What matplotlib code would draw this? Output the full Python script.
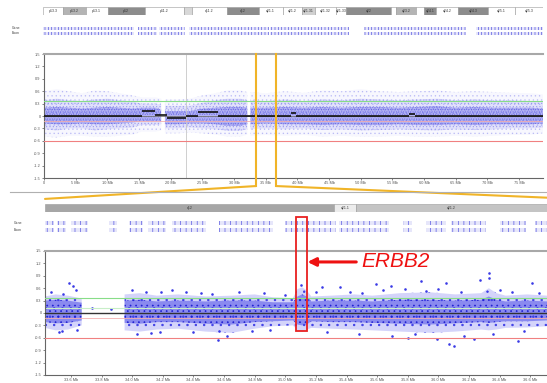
import numpy as np
import matplotlib.pyplot as plt
from matplotlib.patches import Rectangle, ConnectionPatch
from matplotlib.lines import Line2D

plt.rcParams['font.family'] = ['Liberation Sans', 'DejaVu Sans']
plt.rcParams['hatch.linewidth'] = 0.5

W, H = 547, 383
nan = np.nan

# chromosome 17, whole view (Mb)
CHR_LEN = 78.8
ZOOM_START, ZOOM_END = 33.43, 36.71
ERBB2_START, ERBB2_END = 35.07, 35.14
CENTROMERE = 22.4

# ideogram bands (Mb) and grey shade
band_start = [0.0, 3.1, 6.7, 10.2, 16.0, 22.2, 23.5, 29.0, 34.0, 37.8, 40.8, 42.8, 46.2, 47.8,
              54.9, 55.7, 58.8, 60.0, 62.0, 65.4, 70.2, 74.4]
band_end = [3.1, 6.7, 10.2, 16.0, 22.2, 23.5, 29.0, 34.0, 37.8, 40.8, 42.8, 46.2, 47.8, 54.9,
            55.7, 58.8, 60.0, 62.0, 65.4, 70.2, 74.4, 78.8]
band_name = ['p13.3', 'p13.2', 'p13.1', 'p12', 'p11.2', '', 'q11.2', 'q12', 'q21.1', 'q21.2',
             'q21.31', 'q21.32', 'q21.33', 'q22', '', 'q23.2', '', 'q24.1', 'q24.2', 'q24.3',
             'q25.1', 'q25.3']
band_shade = ['#ffffff', '#b4b4b4', '#ffffff', '#8c8c8c', '#ffffff', '#d8d8d8', '#ffffff',
              '#8c8c8c', '#ffffff', '#ffffff', '#d0d0d0', '#ffffff', '#ffffff', '#8c8c8c',
              '#ffffff', '#b4b4b4', '#ffffff', '#8c8c8c', '#ffffff', '#8c8c8c', '#ffffff',
              '#ffffff']

# zoomed ideogram bands
zband_start = [33.43, 35.32, 35.46]
zband_end = [35.32, 35.46, 36.71]
zband_name = ['q12', 'q21.1', 'q21.2']
zband_shade = ['#a6a6a6', '#ececec', '#c4c4c4']

# gene track coverage (Mb)
gene_start = [0.0, 14.9, 18.3, 23.0, 35.7, 50.6, 68.2]
gene_end = [14.3, 18.0, 22.4, 35.6, 48.3, 66.6, 78.8]
zgene_start = [33.43, 33.51, 33.60, 33.85, 33.98, 34.10, 34.26, 34.57, 35.00, 35.35, 35.77,
               35.92, 36.08, 36.40, 36.63]
zgene_end = [33.49, 33.57, 33.71, 33.90, 34.07, 34.22, 34.48, 34.92, 35.33, 35.68, 35.83,
             36.05, 36.31, 36.57, 36.71]

# whole-chromosome log ratio spread: core, middle and outer envelopes (nan = no probes)
top_x = [0, 2, 4, 6, 8, 10, 12, 14, 15.4, 17.6, 18.5, 18.8,
         19.1, 21, 23, 25, 27, 29, 31, 32.1, 32.35,
         32.6, 35, 38, 41, 44, 47, 50, 53, 56, 59, 62, 65, 68, 71, 74, 77, 78.8]
top_core_hi = [.20, .22, .20, .18, .20, .22, .20, .18, .20, .20, .15, nan,
               .12, .12, .12, .18, .20, .22, .22, .20, nan,
               .20, .20, .22, .20, .22, .20, .22, .22, .20, .22, .24, .20, .22, .20, .20, .20, .18]
top_core_lo = [-.18, -.20, -.20, -.18, -.20, -.20, -.18, -.16, -.12, -.12, -.12, nan,
               -.20, -.20, -.18, -.18, -.20, -.24, -.24, -.20, nan,
               -.20, -.18, -.20, -.20, -.22, -.20, -.22, -.22, -.20, -.22, -.22, -.20, -.22,
               -.20, -.20, -.20, -.18]
top_mid_hi = [.38, .42, .38, .36, .40, .42, .38, .35, .30, .30, .28, nan,
              .25, .25, .25, .32, .38, .42, .42, .38, nan,
              .38, .36, .40, .36, .40, .38, .42, .40, .38, .40, .42, .38, .40, .38, .38, .36, .34]
top_mid_lo = [-.32, -.35, -.30, -.30, -.35, -.32, -.30, -.28, -.22, -.22, -.20, nan,
              -.30, -.30, -.28, -.30, -.32, -.36, -.36, -.32, nan,
              -.32, -.30, -.32, -.30, -.34, -.32, -.35, -.34, -.32, -.34, -.35, -.32, -.34,
              -.32, -.30, -.30, -.28]
top_out_hi = [.60, .65, .60, .55, .62, .60, .55, .50, .45, .45, .42, nan,
              .40, .40, .42, .50, .55, .62, .62, .58, nan,
              .58, .55, .60, .56, .62, .60, .65, .60, .58, .60, .62, .58, .60, .58, .56, .55, .52]
top_out_lo = [-.50, -.52, -.48, -.48, -.50, -.50, -.48, -.45, -.38, -.38, -.35, nan,
              -.42, -.42, -.40, -.42, -.45, -.50, -.50, -.45, nan,
              -.48, -.46, -.48, -.46, -.50, -.48, -.50, -.50, -.48, -.50, -.50, -.48, -.50,
              -.48, -.46, -.45, -.42]

# segment means
seg_x0 = [0.0, 15.4, 17.6, 19.5, 22.4, 24.3, 27.4, 39.0, 39.8, 57.6, 58.6]
seg_x1 = [15.4, 17.6, 19.5, 22.4, 24.3, 27.4, 39.0, 39.8, 57.6, 58.6, 78.8]
seg_val = [0.0, 0.12, 0.02, -0.05, 0.0, 0.10, 0.0, 0.08, 0.0, 0.04, 0.0]

# zoomed log ratio spread
bot_x = [33.43, 33.50, 33.58, 33.67, 33.80, 33.95, 34.05, 34.16, 34.30, 34.48, 34.65, 34.80,
         34.92, 35.05, 35.08, 35.11, 35.14, 35.17, 35.30, 35.45, 35.57, 35.75, 35.95, 36.11,
         36.28, 36.33, 36.38, 36.44, 36.58, 36.71]
bot_out_hi = [.40, .45, .42, .35, nan, .45, .48, .42, .45, .40, .42, .45, .38, .36, .58, .62,
              .55, .40, .42, .45, .42, .48, .50, .45, .48, .60, .48, .42, .45, .42]
bot_out_lo = [-.36, -.42, -.40, -.30, nan, -.42, -.45, -.40, -.38, -.45, -.48, -.38, -.32,
              -.30, -.42, -.45, -.40, -.36, -.38, -.40, -.42, -.45, -.48, -.45, -.40, -.42,
              -.40, -.36, -.35, -.32]
bot_in_hi = [.30, .32, .30, .25, nan, .30, .32, .28, .30, .28, .30, .30, .26, .26, .40, .45,
             .40, .28, .30, .30, .28, .32, .32, .30, .32, .40, .32, .28, .30, .28]
bot_in_lo = [-.22, -.25, -.24, -.18, nan, -.24, -.26, -.22, -.22, -.26, -.28, -.22, -.20,
             -.18, -.28, -.30, -.28, -.20, -.22, -.22, -.24, -.26, -.28, -.25, -.22, -.24,
             -.22, -.20, -.20, -.18]

# single probes outside the main spread
pt_x = [33.59, 33.61, 33.74, 33.86, 34.19, 34.26, 34.45, 34.18, 34.56, 34.57, 34.78, 33.54,
        35.24, 35.36, 35.59, 35.69, 35.89, 36.05, 36.27, 36.33, 36.33, 36.61, 35.80, 35.99,
        36.07, 36.10, 36.23, 36.52, 35.10,
        33.47, 33.55, 33.63, 34.00, 34.09, 34.35, 34.52, 34.70, 34.86, 35.00, 35.20, 35.42,
        35.50, 35.64, 35.78, 35.92, 36.00, 36.15, 36.40, 36.48, 36.66,
        33.52, 33.64, 34.03, 34.12, 34.40, 34.62, 34.90, 35.27, 35.48, 35.70, 35.85, 36.17,
        36.36, 36.56]
pt_y = [0.72, 0.65, 0.13, 0.09, 0.52, 0.55, 0.48, -0.47, -0.65, -0.43, -0.43, -0.43,
        0.64, 0.64, 0.70, 0.66, 0.77, 0.72, 0.80, 0.96, 0.84, 0.72, -0.60, -0.64,
        -0.74, -0.80, -0.64, -0.67, 0.68,
        0.50, 0.46, 0.55, 0.56, 0.50, 0.52, 0.46, 0.50, 0.48, 0.44, 0.50, 0.52,
        0.48, 0.55, 0.58, 0.54, 0.58, 0.52, 0.55, 0.50, 0.48,
        -0.45, -0.42, -0.50, -0.48, -0.46, -0.55, -0.40, -0.46, -0.50, -0.55, -0.52, -0.55,
        -0.50, -0.44]

yticks = [1.5, 1.2, 0.9, 0.6, 0.3, 0.0, -0.3, -0.6, -0.9, -1.2, -1.5]
GAIN, LOSS, LOSS_SOFT, GAIN_SOFT = 0.36, -0.6, -0.12, 0.13

BLUE = '#3a3ae6'
GOLD = '#f0b428'


def px_box(left, top, right, bottom):
    return [left / W, 1 - bottom / H, (right - left) / W, (bottom - top) / H]


def style_plot(ax, xticks, xlabels):
    ax.set_ylim(-1.5, 1.5)
    ax.set_yticks(yticks)
    ax.set_yticklabels([('%g' % v) for v in yticks])
    ax.set_xticks(xticks)
    ax.set_xticklabels(xlabels)
    ax.tick_params(labelsize=2.8, length=1.5, width=0.5, pad=1, colors='#555555')
    ax.spines['right'].set_visible(False)
    ax.spines['top'].set_color('#a8a8a8')
    ax.spines['top'].set_linewidth(1.5)
    for s in ('left', 'bottom'):
        ax.spines[s].set_color('#666666')
        ax.spines[s].set_linewidth(0.8)
    ax.axhline(GAIN, color='#88dd88', lw=0.8, zorder=3)
    ax.axhline(LOSS, color='#f08080', lw=0.8, zorder=3)
    ax.axhline(LOSS_SOFT, color='#f4b0b0', lw=0.6, zorder=3)


def draw_ideogram(ax, x0, x1, names, shades, xlim):
    for s, e, n, c in zip(x0, x1, names, shades):
        ax.add_patch(Rectangle((s, 0), e - s, 1, facecolor=c, edgecolor='#9a9a9a', lw=0.4))
        if n:
            ax.text((s + e) / 2, 0.5, n, fontsize=2.5, ha='center', va='center',
                    color='#333333')
    ax.set_xlim(*xlim)
    ax.set_ylim(0, 1)
    ax.axis('off')


def draw_genes(ax, x0, x1, xlim, hatch):
    for row in (0, 1):
        ax.broken_barh([(s, e - s) for s, e in zip(x0, x1)], (row * 1.2, 0.8),
                       facecolor='#e6e6fa', edgecolor='#5a5ae0', hatch=hatch, lw=0)
    ax.set_xlim(*xlim)
    ax.set_ylim(-0.2, 2.2)
    ax.axis('off')
    ax.text(-0.062, 0.68, 'Gene', transform=ax.transAxes, fontsize=2.5, color='#444444')
    ax.text(-0.062, 0.18, 'Exon', transform=ax.transAxes, fontsize=2.5, color='#444444')


fig = plt.figure(figsize=(W / 100, H / 100), dpi=100)

# ---- whole chromosome ----
ax_ideo = fig.add_axes(px_box(43, 7, 543, 15))
draw_ideogram(ax_ideo, band_start, band_end, band_name, band_shade, (0, CHR_LEN))

ax_gene = fig.add_axes(px_box(43, 26, 543, 36))
draw_genes(ax_gene, gene_start, gene_end, (0, CHR_LEN), '|||||')

ax_top = fig.add_axes(px_box(44, 54, 543, 178))
ax_top.fill_between(top_x, top_out_lo, top_out_hi, facecolor=(0.6, 0.6, 0.96, 0.08),
                    edgecolor=(0.45, 0.45, 0.92, 0.35), hatch='....', lw=0)
ax_top.fill_between(top_x, top_mid_lo, top_mid_hi, facecolor=(0.5, 0.5, 0.94, 0.18),
                    edgecolor=(0.35, 0.35, 0.9, 0.4), hatch='.....', lw=0)
ax_top.fill_between(top_x, top_core_lo, top_core_hi, facecolor=(0.36, 0.36, 0.9, 0.34),
                    edgecolor=(0.2, 0.2, 0.85, 0.5), hatch='.......', lw=0)
ax_top.axvline(CENTROMERE, color='#c8c8c8', lw=0.6)
ax_top.axhline(0, color='#777777', lw=0.6)
ax_top.hlines(seg_val, seg_x0, seg_x1, color='#111111', lw=1.2, zorder=4)
ax_top.set_xlim(0, CHR_LEN)
top_ticks = list(range(0, 80, 5))
style_plot(ax_top, top_ticks, ['0'] + ['%d Mb' % t for t in top_ticks[1:]])

# zoom window markers
for xz in (ZOOM_START, ZOOM_END):
    ax_top.axvline(xz, ymin=-0.065, ymax=1, color=GOLD, lw=1.5, clip_on=False, zorder=5)

fig.add_artist(Line2D([10 / W, 1], [1 - 192 / H, 1 - 192 / H], color='#b0b0b0', lw=0.8))

# ---- zoomed region ----
zlim = (ZOOM_START, ZOOM_END)
ax_zideo = fig.add_axes(px_box(45, 204, 547, 212))
draw_ideogram(ax_zideo, zband_start, zband_end, zband_name, zband_shade, zlim)

ax_zgene = fig.add_axes(px_box(45, 220, 547, 233))
draw_genes(ax_zgene, zgene_start, zgene_end, zlim, '|||')

ax_bot = fig.add_axes(px_box(45, 251, 547, 375))
ax_bot.axhline(GAIN_SOFT, color='#c8eec8', lw=0.8)
ax_bot.fill_between(bot_x, bot_out_lo, bot_out_hi, facecolor=(0.4, 0.4, 0.94, 0.28),
                    edgecolor=BLUE, hatch='..', lw=0)
ax_bot.fill_between(bot_x, bot_in_lo, bot_in_hi, facecolor=(0.26, 0.26, 0.9, 0.5),
                    edgecolor='#2020d0', hatch='...', lw=0)
ax_bot.scatter(pt_x, pt_y, s=3.5, color=BLUE, lw=0)
ax_bot.axhline(0, color='#333333', lw=1.0, zorder=4)
ax_bot.set_xlim(*zlim)
bot_ticks = [33.6 + 0.2 * i for i in range(16)]
style_plot(ax_bot, bot_ticks, ['%.1f Mb' % t for t in bot_ticks])

# gold connectors from whole view to zoomed view
con_l = ConnectionPatch(xyA=(ZOOM_START, -0.065), coordsA=ax_top.get_xaxis_transform(),
                        xyB=(ZOOM_START, 1.42), coordsB=ax_bot.get_xaxis_transform(),
                        color=GOLD, lw=1.5)
con_r = ConnectionPatch(xyA=(ZOOM_END, -0.065), coordsA=ax_top.get_xaxis_transform(),
                        xyB=(ZOOM_END, 1.43), coordsB=ax_bot.get_xaxis_transform(),
                        color=GOLD, lw=1.5)
fig.add_artist(con_l)
fig.add_artist(con_r)

# ERBB2 highlight
ax_bot.add_patch(Rectangle((ERBB2_START, -0.44), ERBB2_END - ERBB2_START, 2.76, fill=False,
                           edgecolor='#e82020', lw=1.3, clip_on=False, zorder=6))
ax_bot.annotate('ERBB2', xy=(ERBB2_END + 0.005, 1.235), xytext=(35.5, 1.235),
                fontsize=15, style='italic', color='#ee1111', va='center', ha='left',
                annotation_clip=False,
                arrowprops=dict(arrowstyle='-|>', color='#ee1111', lw=2.2, mutation_scale=12,
                                shrinkA=2, shrinkB=0))

fig.savefig('out.png', dpi=100)
